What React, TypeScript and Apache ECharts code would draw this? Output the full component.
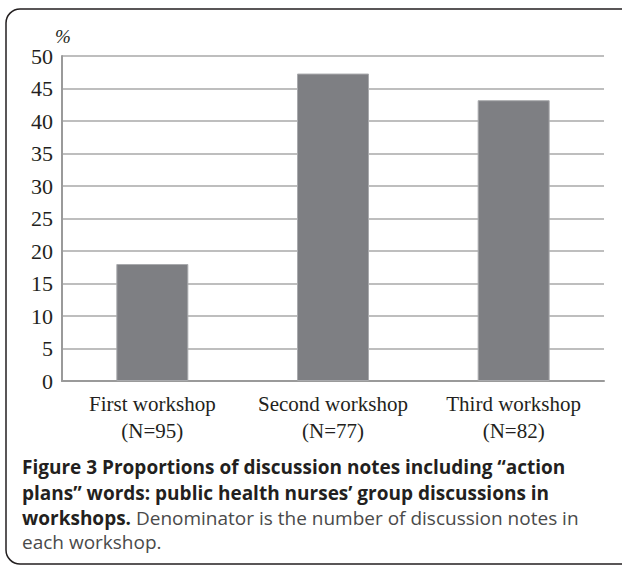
import React, { useEffect, useRef } from "react";
import * as echarts from "echarts";

const categories = ["First workshop", "Second workshop", "Third workshop"];
const sampleSizes = ["(N=95)", "(N=77)", "(N=82)"];
const proportions = [18.0, 47.3, 43.2];
const yTicks = { min: 0, max: 50, interval: 5 };

const captionLine1 = "Figure 3 Proportions of discussion notes including \u201caction";
const captionLine2 = "plans\u201d words: public health nurses\u2019 group discussions in";
const captionLine3Bold = "workshops.";
const captionLine3Rest = " Denominator is the number of discussion notes in";
const captionLine4 = "each workshop.";

export default function App() {
  const ref = useRef<HTMLDivElement>(null);
  useEffect(() => {
    if (!ref.current) return;
    const chart = echarts.init(ref.current, null, { renderer: "svg" });
    const serif = "'Liberation Serif', 'DejaVu Serif', serif";
    const sans = "'Open Sans', 'Noto Sans', sans-serif";
    const capSize = 19;
    chart.setOption({
      animation: false,
      backgroundColor: "#ffffff",
      grid: { left: 62, right: 18, top: 56, bottom: 185 },
      xAxis: {
        type: "category",
        data: categories.map((c, i) => c + "\n" + sampleSizes[i]),
        axisTick: { show: false },
        axisLine: { show: true, lineStyle: { color: "#9a9a9a", width: 2 } },
        axisLabel: {
          interval: 0,
          hideOverlap: false,
          fontFamily: serif,
          fontSize: 21,
          color: "#231f20",
          lineHeight: 27,
          margin: 9,
        },
      },
      yAxis: {
        type: "value",
        min: yTicks.min,
        max: yTicks.max,
        interval: yTicks.interval,
        axisLine: { show: true, lineStyle: { color: "#9a9a9a", width: 2 } },
        axisTick: { show: false },
        splitLine: { lineStyle: { color: "#a8a8a8", width: 1.5 } },
        axisLabel: {
          fontFamily: serif,
          fontSize: 22,
          color: "#231f20",
          margin: 9,
        },
      },
      series: [
        {
          type: "bar",
          data: proportions,
          barWidth: 72,
          itemStyle: { color: "#7e7f83", borderColor: "#a9aaad", borderWidth: 1 },
        },
      ],
      graphic: [
        {
          type: "rect",
          shape: { x: 6, y: 9, width: 640, height: 555, r: [14, 0, 0, 14] },
          style: { fill: "none", stroke: "#231f20", lineWidth: 1.5 },
          silent: true,
        },
        {
          type: "text",
          x: 55,
          y: 36,
          style: { text: "%", fontFamily: serif, fontStyle: "italic", fontSize: 19, fill: "#231f20", verticalAlign: "middle" },
        },
        {
          type: "text",
          x: 22,
          y: 467,
          style: { text: captionLine1, fontFamily: sans, fontWeight: "bold", fontSize: capSize, fill: "#231f20", verticalAlign: "middle" },
        },
        {
          type: "text",
          x: 22,
          y: 493,
          style: { text: captionLine2, fontFamily: sans, fontWeight: "bold", fontSize: capSize, fill: "#231f20", verticalAlign: "middle" },
        },
        {
          type: "text",
          x: 22,
          y: 518,
          style: {
            text: "{b|" + captionLine3Bold + "}{r|" + captionLine3Rest + "}",
            verticalAlign: "middle",
            rich: {
              b: { fontFamily: sans, fontWeight: "bold", fontSize: capSize, fill: "#231f20" },
              r: { fontFamily: sans, fontWeight: "normal", fontSize: capSize, fill: "#4a4a4a" },
            },
          },
        },
        {
          type: "text",
          x: 22,
          y: 542,
          style: { text: captionLine4, fontFamily: sans, fontSize: capSize, fill: "#4a4a4a", verticalAlign: "middle" },
        },
      ],
    });
    return () => chart.dispose();
  }, []);
  return (
    <div
      ref={ref}
      style={{ position: "fixed", left: 0, top: 0, width: 622, height: 566 }}
    />
  );
}
